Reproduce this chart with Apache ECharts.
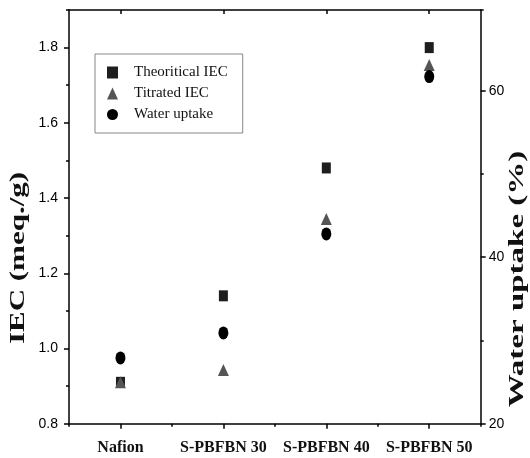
<!DOCTYPE html>
<html>
<head>
<meta charset="utf-8">
<script src="https://cdn.jsdelivr.net/npm/echarts@6/dist/echarts.min.js"></script>
<style>html,body{margin:0;padding:0;background:#fff}#c{width:530px;height:458px}</style>
</head>
<body>
<div id="c"></div>
<script>
const categories = ['Nafion', 'S-PBFBN 30', 'S-PBFBN 40', 'S-PBFBN 50'];
const theoreticalIEC = [0.91, 1.14, 1.48, 1.80];
const titratedIEC = [0.91, 0.943, 1.344, 1.754];
const waterUptake = [27.9, 30.9, 42.8, 61.7];
const seriesNames = ['Theoritical IEC', 'Titrated IEC', 'Water uptake'];
const leftTitle = 'IEC (meq./g)';
const rightTitle = 'Water uptake (%)';

const chart = echarts.init(document.getElementById('c'), null, {renderer: 'canvas'});
const axisCol = '#000';
const lineStyle = {color: axisCol, width: 1.5};
chart.setOption({
  animation: false,
  backgroundColor: '#fff',
  grid: {left: 69, right: 49.3, top: 10, bottom: 34.3},
  legend: {
    orient: 'vertical', left: 95, top: 54,
    padding: [11, 15, 11, 12],
    borderColor: '#888', borderWidth: 1,
    itemWidth: 11, itemHeight: 12, itemGap: 6,
    textStyle: {fontFamily: 'Liberation Serif', fontSize: 15, color: '#111', padding: [0, 0, 0, 11]},
    data: seriesNames
  },
  xAxis: [
    {type: 'category', data: categories, position: 'bottom', boundaryGap: true,
     axisLine: {show: true, lineStyle: lineStyle},
     axisTick: {show: true, alignWithLabel: true, length: 5, lineStyle: {width: 1.5, color: axisCol}},
     axisLabel: {interval: 0, margin: 16, fontFamily: 'Liberation Serif', fontWeight: 'bold', fontSize: 16, color: '#111'},
     splitLine: {show: false}},
    {type: 'category', data: categories, position: 'bottom', boundaryGap: true,
     axisLine: {show: false},
     axisTick: {show: true, interval: 0, alignWithLabel: false, length: 3, lineStyle: {width: 1.5, color: axisCol}},
     axisLabel: {show: false}, splitLine: {show: false}},
    {type: 'category', data: categories, position: 'top', boundaryGap: true,
     axisLine: {show: true, lineStyle: lineStyle},
     axisTick: {show: true, interval: 0, alignWithLabel: true, inside: true, length: 4, lineStyle: {width: 1.5, color: axisCol}},
     axisLabel: {show: false}, splitLine: {show: false}}
  ],
  yAxis: [
    {type: 'value', position: 'left', min: 0.8, max: 1.9, interval: 0.2,
     axisLine: {show: true, lineStyle: lineStyle},
     axisTick: {show: true, length: 5, lineStyle: {width: 1.5, color: axisCol}},
     axisLabel: {margin: 11, showMaxLabel: false, fontFamily: 'Liberation Sans', fontSize: 14, color: '#000',
       formatter: v => v.toFixed(1)},
     splitLine: {show: false}},
    {type: 'value', position: 'left', min: 0.8, max: 1.9, interval: 0.1,
     axisLine: {show: false},
     axisTick: {show: true, length: 3, lineStyle: {width: 1.5, color: axisCol}},
     axisLabel: {show: false}, splitLine: {show: false}},
    {type: 'value', position: 'right', min: 20, max: 69.7, interval: 20,
     axisLine: {show: true, lineStyle: lineStyle},
     axisTick: {show: true, length: 5, lineStyle: {width: 1.5, color: axisCol}},
     axisLabel: {margin: 8, showMaxLabel: false, fontFamily: 'Liberation Sans', fontSize: 14, color: '#000'},
     splitLine: {show: false}},
    {type: 'value', position: 'right', min: 20, max: 69.7, interval: 10,
     axisLine: {show: false},
     axisTick: {show: true, length: 3, lineStyle: {width: 1.5, color: axisCol}},
     axisLabel: {show: false}, splitLine: {show: false}}
  ],
  graphic: [
    {type: 'text', x: 19, y: 258, rotation: Math.PI / 2, scaleX: 1.55, scaleY: 1,
     style: {text: leftTitle, font: 'bold 20px "Liberation Serif"', fill: '#111', align: 'center', verticalAlign: 'middle'}},
    {type: 'text', x: 518, y: 279, rotation: Math.PI / 2, scaleX: 1.65, scaleY: 1,
     style: {text: rightTitle, font: 'bold 20px "Liberation Serif"', fill: '#111', align: 'center', verticalAlign: 'middle'}}
  ],
  series: [
    {name: seriesNames[0], type: 'scatter', xAxisIndex: 0, yAxisIndex: 0, symbol: 'rect', symbolSize: [9, 11],
     itemStyle: {color: '#1e1e1e', opacity: 1}, data: theoreticalIEC, z: 3},
    {name: seriesNames[1], type: 'scatter', xAxisIndex: 0, yAxisIndex: 0, symbol: 'triangle', symbolSize: [11, 12],
     itemStyle: {color: '#555', opacity: 1}, data: titratedIEC, z: 4},
    {name: seriesNames[2], type: 'scatter', xAxisIndex: 0, yAxisIndex: 2, symbol: 'circle', symbolSize: [10, 13],
     itemStyle: {color: '#000', opacity: 1}, data: waterUptake, z: 5}
  ]
});
</script>
</body>
</html>
